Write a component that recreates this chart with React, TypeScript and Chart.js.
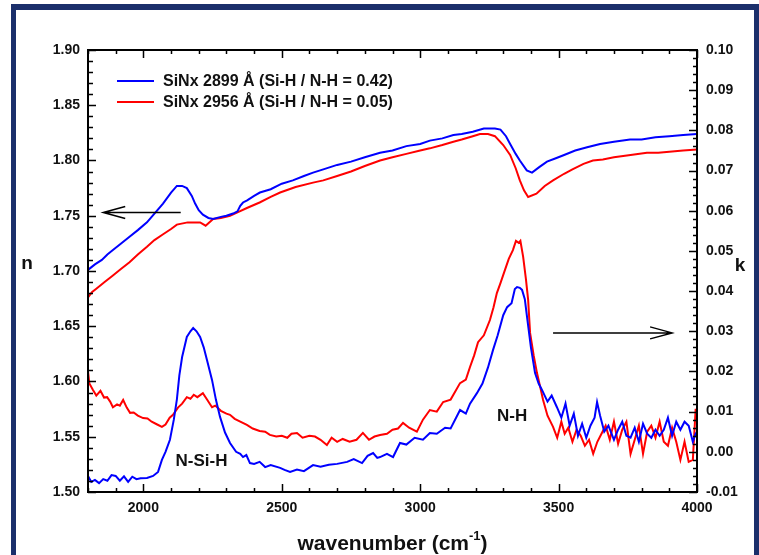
import React, { useEffect, useRef } from 'react';
import { Chart, registerables } from 'chart.js';

Chart.register(...registerables);

const FONT = '"Liberation Sans", Arial, Helvetica, sans-serif';

// Axis tick labels
const xTickValues = [2000, 2500, 3000, 3500, 4000];
const nTickValues = [1.5, 1.55, 1.6, 1.65, 1.7, 1.75, 1.8, 1.85, 1.9];
const kTickValues = [-0.01, 0, 0.01, 0.02, 0.03, 0.04, 0.05, 0.06, 0.07, 0.08, 0.09, 0.1];

const legendLabels = ['SiNx 2899 Å (Si-H / N-H = 0.42)', 'SiNx 2956 Å (Si-H / N-H = 0.05)'];
const seriesColors = ['#0000ff', '#ff0000'];

// Blue film: refractive index n
const blueNWave = [1800, 1825, 1850, 1870, 1890, 1915, 1950, 1980, 2013, 2040, 2071, 2100, 2121, 2140, 2157, 2175, 2187, 2200, 2215, 2235, 2252, 2280, 2300, 2324, 2340, 2350, 2360, 2375, 2400, 2421, 2460, 2500, 2540, 2580, 2613, 2650, 2700, 2750, 2800, 2855, 2900, 2950, 3000, 3035, 3080, 3120, 3150, 3190, 3230, 3252, 3270, 3290, 3310, 3325, 3345, 3360, 3385, 3404, 3430, 3458, 3490, 3520, 3560, 3603, 3650, 3700, 3758, 3800, 3850, 3900, 3950, 4000];
const blueN = [1.701, 1.706, 1.71, 1.715, 1.719, 1.724, 1.731, 1.737, 1.744, 1.752, 1.761, 1.771, 1.777, 1.777, 1.775, 1.768, 1.761, 1.755, 1.751, 1.748, 1.747, 1.749, 1.75, 1.752, 1.754, 1.759, 1.762, 1.764, 1.768, 1.771, 1.774, 1.779, 1.782, 1.786, 1.789, 1.792, 1.796, 1.799, 1.803, 1.807, 1.809, 1.813, 1.815, 1.818, 1.82, 1.823, 1.824, 1.826, 1.829, 1.829, 1.829, 1.828, 1.822, 1.815, 1.806, 1.8, 1.791, 1.789, 1.794, 1.799, 1.802, 1.805, 1.809, 1.812, 1.815, 1.817, 1.819, 1.819, 1.821, 1.822, 1.823, 1.824];

// Red film: refractive index n
const redNWave = [1800, 1815, 1830, 1860, 1890, 1920, 1950, 1980, 2013, 2040, 2070, 2100, 2121, 2160, 2205, 2225, 2252, 2280, 2313, 2340, 2374, 2420, 2460, 2494, 2550, 2613, 2650, 2700, 2750, 2800, 2855, 2900, 2950, 3000, 3035, 3080, 3120, 3150, 3190, 3216, 3245, 3270, 3300, 3325, 3345, 3360, 3375, 3390, 3420, 3450, 3480, 3520, 3550, 3590, 3624, 3660, 3700, 3760, 3819, 3860, 3900, 3950, 4000];
const redN = [1.676, 1.681, 1.684, 1.69, 1.696, 1.702, 1.708, 1.715, 1.722, 1.728, 1.733, 1.738, 1.742, 1.744, 1.744, 1.741, 1.747, 1.748, 1.75, 1.753, 1.757, 1.762, 1.767, 1.771, 1.776, 1.78, 1.782, 1.786, 1.79, 1.795, 1.8, 1.803, 1.806, 1.809, 1.811, 1.814, 1.817, 1.819, 1.822, 1.824, 1.824, 1.822, 1.814, 1.805, 1.793, 1.782, 1.773, 1.767, 1.77, 1.777, 1.782, 1.788, 1.792, 1.797, 1.8, 1.801, 1.803, 1.805, 1.807, 1.807, 1.808, 1.809, 1.81];

// Blue film: extinction coefficient k
const blueKWave = [1800, 1812, 1825, 1840, 1855, 1870, 1885, 1900, 1915, 1930, 1945, 1960, 1975, 1990, 2013, 2035, 2053, 2067, 2080, 2096, 2110, 2121, 2130, 2140, 2157, 2170, 2180, 2192, 2205, 2218, 2230, 2248, 2262, 2277, 2295, 2313, 2335, 2350, 2360, 2372, 2385, 2400, 2420, 2440, 2460, 2494, 2510, 2530, 2555, 2580, 2613, 2640, 2670, 2700, 2736, 2760, 2790, 2810, 2830, 2845, 2855, 2880, 2902, 2927, 2950, 2980, 3010, 3035, 3060, 3090, 3110, 3144, 3165, 3180, 3205, 3225, 3245, 3263, 3280, 3300, 3314, 3330, 3342, 3350, 3360, 3368, 3378, 3386, 3400, 3415, 3428, 3440, 3460, 3475, 3494, 3510, 3525, 3540, 3555, 3570, 3585, 3600, 3615, 3630, 3639, 3650, 3665, 3680, 3700, 3715, 3730, 3745, 3760, 3775, 3790, 3805, 3820, 3835, 3850, 3865, 3880, 3895, 3910, 3925, 3940, 3955, 3970, 3985, 3995, 4000];
const blueK = [-0.006, -0.0075, -0.007, -0.0078, -0.0068, -0.0072, -0.0058, -0.006, -0.0072, -0.0061, -0.0075, -0.0062, -0.0068, -0.0066, -0.0065, -0.006, -0.005, -0.002, 0.0, 0.003, 0.008, 0.013, 0.019, 0.0236, 0.0286, 0.03, 0.0308, 0.03, 0.0286, 0.026, 0.0228, 0.0179, 0.013, 0.0087, 0.0048, 0.0022, 0.0, -0.0005, -0.0013, -0.0008, -0.0028, -0.003, -0.0025, -0.0038, -0.0033, -0.004, -0.0045, -0.005, -0.0044, -0.0048, -0.0033, -0.0037, -0.0032, -0.003, -0.0025, -0.0018, -0.0028, -0.001, -0.0003, -0.0015, -0.0013, -0.0005, -0.0013, 0.0022, 0.0018, 0.0035, 0.003, 0.0047, 0.0045, 0.006, 0.0058, 0.0104, 0.0095, 0.012, 0.0146, 0.017, 0.021, 0.0253, 0.029, 0.034, 0.036, 0.037, 0.0405, 0.041, 0.0408, 0.0403, 0.038, 0.0336, 0.026, 0.0196, 0.017, 0.0154, 0.0125, 0.014, 0.0111, 0.0085, 0.012, 0.0065, 0.0095, 0.004, 0.007, 0.0035, 0.0065, 0.0085, 0.0124, 0.009, 0.005, 0.0065, 0.003, 0.0055, 0.0075, 0.004, 0.0035, 0.006, 0.0025, 0.007, 0.0045, 0.0035, 0.0055, 0.004, 0.0055, 0.0085, 0.004, 0.0075, 0.0055, 0.0075, 0.0065, 0.0025, 0.0045, 0.005];

// Red film: extinction coefficient k
const redKWave = [1800, 1805, 1818, 1830, 1845, 1858, 1869, 1880, 1890, 1905, 1915, 1927, 1940, 1952, 1965, 1980, 1999, 2015, 2030, 2050, 2067, 2080, 2095, 2107, 2125, 2140, 2157, 2170, 2182, 2195, 2215, 2230, 2248, 2260, 2280, 2300, 2313, 2330, 2350, 2374, 2395, 2420, 2440, 2457, 2480, 2500, 2520, 2535, 2555, 2575, 2600, 2620, 2640, 2663, 2680, 2700, 2720, 2745, 2770, 2793, 2815, 2835, 2855, 2880, 2900, 2920, 2938, 2960, 2988, 3010, 3035, 3060, 3083, 3110, 3144, 3165, 3180, 3195, 3209, 3230, 3252, 3265, 3277, 3290, 3306, 3320, 3335, 3346, 3356, 3362, 3372, 3382, 3390, 3397, 3410, 3422, 3434, 3444, 3460, 3480, 3495, 3510, 3522, 3535, 3550, 3565, 3580, 3595, 3610, 3625, 3640, 3655, 3670, 3685, 3700, 3715, 3730, 3745, 3760, 3775, 3790, 3805, 3820, 3835, 3850, 3865, 3880, 3895, 3910, 3925, 3940, 3955, 3970, 3985, 3995, 4000];
const redK = [0.02, 0.017, 0.0154, 0.014, 0.0152, 0.0135, 0.0136, 0.0125, 0.0111, 0.0118, 0.0115, 0.0129, 0.011, 0.0097, 0.0098, 0.009, 0.0084, 0.0083, 0.0075, 0.0068, 0.0062, 0.0068, 0.0085, 0.0092, 0.011, 0.012, 0.0136, 0.0132, 0.0142, 0.0136, 0.0146, 0.013, 0.0111, 0.0115, 0.0102, 0.0095, 0.0092, 0.0082, 0.0075, 0.0067, 0.0058, 0.0052, 0.005, 0.0042, 0.0038, 0.004, 0.0035, 0.0045, 0.0047, 0.0035, 0.004, 0.0038, 0.003, 0.0017, 0.0035, 0.0025, 0.0032, 0.0025, 0.003, 0.0047, 0.003, 0.0038, 0.0042, 0.0045, 0.0055, 0.0058, 0.0072, 0.006, 0.005, 0.008, 0.0104, 0.01, 0.0124, 0.013, 0.0171, 0.018, 0.0211, 0.024, 0.0273, 0.029, 0.0328, 0.036, 0.0395, 0.042, 0.0452, 0.048, 0.0502, 0.0525, 0.052, 0.0525, 0.0485, 0.043, 0.0378, 0.0296, 0.024, 0.0196, 0.016, 0.0129, 0.009, 0.0062, 0.0035, 0.0075, 0.0045, 0.006, 0.0025, 0.0055, 0.004, 0.0015, 0.003, -0.0005, 0.0025, 0.0045, 0.0065, 0.003, 0.0075, 0.002, 0.0055, 0.0075, -0.0005, 0.003, 0.0065, -0.0005, 0.005, 0.0065, 0.0035, 0.0075, 0.0025, 0.0015, 0.006, 0.0025, -0.002, 0.0025, -0.0025, -0.002, 0.0105, 0.0105];

// Annotations (data coordinates)
const leftArrow = { from: [2135, 1.753], to: [1855, 1.753], axis: 'yN' };
const rightArrow = { from: [3480, 0.0296], to: [3910, 0.0296], axis: 'yK' };
const peakLabels = [
  { text: 'N-Si-H', x: 2210, y: -0.0024, axis: 'yK' },
  { text: 'N-H', x: 3332, y: 0.0089, axis: 'yK' },
];

const toPts = (xs: number[], ys: number[]) => xs.map((x, i) => ({ x, y: ys[i] }));

const decorPlugin = {
  id: 'decor',
  beforeDraw(chart: any) {
    const ctx = chart.ctx;
    ctx.save();
    ctx.fillStyle = '#ffffff';
    ctx.fillRect(0, 0, chart.width, chart.height);
    ctx.fillStyle = '#1b2f6b';
    ctx.fillRect(11, 4, chart.width - 11, 6);
    ctx.fillRect(11, 4, 5, chart.height - 4);
    ctx.fillRect(754, 4, 5, chart.height - 4);
    ctx.restore();
  },
  afterDraw(chart: any) {
    const ctx = chart.ctx;
    const a = chart.chartArea;
    const xs = chart.scales.x;
    const yN = chart.scales.yN;
    const yK = chart.scales.yK;
    ctx.save();
    ctx.strokeStyle = '#000';
    ctx.lineWidth = 1.5;
    ctx.beginPath();
    for (let i = 18; i <= 40; i++) {
      const px = Math.round(xs.getPixelForValue(i * 100)) + 0.5;
      const len = i % 5 === 0 ? 8 : 4;
      ctx.moveTo(px, a.bottom); ctx.lineTo(px, a.bottom - len);
      ctx.moveTo(px, a.top); ctx.lineTo(px, a.top + len);
    }
    for (let i = 150; i <= 190; i++) {
      const py = Math.round(yN.getPixelForValue(i / 100)) + 0.5;
      const len = i % 5 === 0 ? 8 : 5;
      ctx.moveTo(a.left, py); ctx.lineTo(a.left + len, py);
    }
    for (let i = -5; i <= 50; i++) {
      const py = Math.round(yK.getPixelForValue(i * 0.002)) + 0.5;
      const len = i % 5 === 0 ? 8 : 4;
      ctx.moveTo(a.right, py); ctx.lineTo(a.right - len, py);
    }
    ctx.stroke();
    ctx.lineWidth = 2;
    ctx.strokeRect(a.left, a.top, a.right - a.left, a.bottom - a.top);

    const drawArrow = (ar: any) => {
      const ys = chart.scales[ar.axis];
      const x1 = xs.getPixelForValue(ar.from[0]);
      const y1 = ys.getPixelForValue(ar.from[1]);
      const x2 = xs.getPixelForValue(ar.to[0]);
      const y2 = ys.getPixelForValue(ar.to[1]);
      const dir = Math.sign(x2 - x1);
      ctx.lineWidth = 1.5;
      ctx.beginPath();
      ctx.moveTo(x1, y1); ctx.lineTo(x2, y2);
      ctx.moveTo(x2 - dir * 22, y2 - 6); ctx.lineTo(x2, y2); ctx.lineTo(x2 - dir * 22, y2 + 6);
      ctx.stroke();
    };
    drawArrow(leftArrow);
    drawArrow(rightArrow);

    ctx.fillStyle = '#111';
    ctx.textAlign = 'center';
    ctx.textBaseline = 'middle';
    ctx.font = `bold 17px ${FONT}`;
    peakLabels.forEach((l) => {
      const ys = chart.scales[l.axis];
      ctx.fillText(l.text, xs.getPixelForValue(l.x), ys.getPixelForValue(l.y));
    });

    ctx.font = `bold 19px ${FONT}`;
    ctx.fillText('n', 27, 264);
    ctx.fillText('k', 740, 266);
    const main = 'wavenumber (cm';
    ctx.font = `bold 21px ${FONT}`;
    const w1 = ctx.measureText(main).width;
    ctx.font = `bold 13px ${FONT}`;
    const w2 = ctx.measureText('-1').width;
    ctx.font = `bold 21px ${FONT}`;
    const w3 = ctx.measureText(')').width;
    const total = w1 + w2 + w3;
    const sx = (a.left + a.right) / 2 - total / 2;
    ctx.textAlign = 'left';
    ctx.textBaseline = 'alphabetic';
    ctx.fillText(main, sx, 550);
    ctx.font = `bold 13px ${FONT}`;
    ctx.fillText('-1', sx + w1, 540);
    ctx.font = `bold 21px ${FONT}`;
    ctx.fillText(')', sx + w1 + w2, 550);

    ctx.font = `bold 16px ${FONT}`;
    ctx.textBaseline = 'middle';
    legendLabels.forEach((lab, i) => {
      const y = 81 + i * 21;
      ctx.strokeStyle = seriesColors[i];
      ctx.lineWidth = 2;
      ctx.beginPath();
      ctx.moveTo(117, y); ctx.lineTo(154, y);
      ctx.stroke();
      ctx.fillStyle = '#111';
      ctx.fillText(lab, 163, y + 1);
    });
    ctx.restore();
  },
};

export default function App() {
  const ref = useRef<HTMLCanvasElement>(null);
  useEffect(() => {
    if (!ref.current) return;
    const mk = (label: string, xs: number[], ys: number[], color: string, axis: string) => ({
      label,
      data: toPts(xs, ys),
      borderColor: color,
      backgroundColor: color,
      borderWidth: 2,
      pointRadius: 0,
      tension: 0,
      yAxisID: axis,
    });
    const tickFont = { family: FONT, size: 14, weight: 'bold' as const };
    const chart = new Chart(ref.current, {
      type: 'line',
      data: {
        datasets: [
          mk(legendLabels[0], blueNWave, blueN, seriesColors[0], 'yN'),
          mk(legendLabels[1], redNWave, redN, seriesColors[1], 'yN'),
          mk(legendLabels[0] + ' k', blueKWave, blueK, seriesColors[0], 'yK'),
          mk(legendLabels[1] + ' k', redKWave, redK, seriesColors[1], 'yK'),
        ],
      },
      options: {
        responsive: false,
        animation: false,
        layout: { padding: { top: 50, left: 0, right: 0, bottom: 0 } },
        plugins: { legend: { display: false }, tooltip: { enabled: false } },
        scales: {
          x: {
            type: 'linear',
            min: 1800,
            max: 4000,
            grid: { display: false, drawTicks: false },
            border: { display: false },
            afterBuildTicks: (s: any) => { s.ticks = xTickValues.map((v) => ({ value: v })); },
            afterFit: (s: any) => { s.height = 63; },
            ticks: { font: tickFont, color: '#111', padding: 8, maxRotation: 0, autoSkip: false, callback: (v: any) => String(v) },
          },
          yN: {
            type: 'linear',
            position: 'left',
            min: 1.5,
            max: 1.9,
            grid: { display: false, drawTicks: false },
            border: { display: false },
            afterBuildTicks: (s: any) => { s.ticks = nTickValues.map((v) => ({ value: v })); },
            afterFit: (s: any) => { s.width = 88; },
            ticks: { font: tickFont, color: '#111', padding: 8, autoSkip: false, callback: (v: any) => Number(v).toFixed(2) },
          },
          yK: {
            type: 'linear',
            position: 'right',
            min: -0.01,
            max: 0.1,
            grid: { display: false, drawTicks: false },
            border: { display: false },
            afterBuildTicks: (s: any) => { s.ticks = kTickValues.map((v) => ({ value: v })); },
            afterFit: (s: any) => { s.width = 62; },
            ticks: { font: tickFont, color: '#111', padding: 9, autoSkip: false, callback: (v: any) => Number(v).toFixed(2) },
          },
        },
      },
      plugins: [decorPlugin],
    });
    return () => chart.destroy();
  }, []);
  return (
    <div style={{ position: 'fixed', left: 0, top: 0, width: 759, height: 555 }}>
      <canvas ref={ref} width={759} height={555} style={{ width: 759, height: 555, display: 'block' }} />
    </div>
  );
}
